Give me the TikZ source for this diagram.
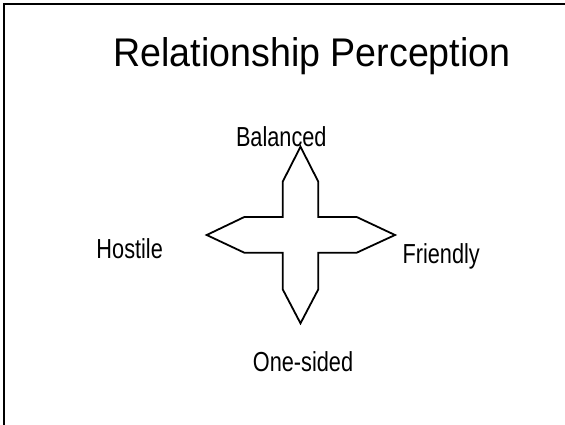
\documentclass[tikz,border=0pt]{standalone}
\usepackage{fontspec}
\setmainfont{Liberation Sans}
\newfontfamily\titlefont[FakeStretch=0.94]{Liberation Sans}
\newfontfamily\labelfont[FakeStretch=0.79]{Liberation Sans}
\begin{document}
\begin{tikzpicture}[x=1pt,y=-1pt,
  titletext/.style={inner sep=0pt, anchor=base, font=\titlefont\fontsize{40}{44}\selectfont},
  labeltext/.style={inner sep=0pt, anchor=base, font=\labelfont\fontsize{27.5}{30}\selectfont},
  frameline/.style={line width=2.4pt, line cap=rect},
  crossline/.style={line width=1.8pt, line join=miter}]
\useasboundingbox (0,0) rectangle (565,424);
% frame (left and top edges visible)
\draw[frameline] (3.8,430) -- (3.8,3.8) -- (570,3.8);
% title
\node[titletext] (title) at (312,66.7) {Relationship Perception};
% four-pointed cross
\draw[crossline]
  (300.5,146.7) -- (318.3,181.7) -- (318.3,217) -- (356.7,217) -- (395,235)
  -- (356.7,252.7) -- (318.3,252.7) -- (318.3,289.3) -- (300.5,323.3)
  -- (282.7,289.3) -- (282.7,252.7) -- (244.3,252.7) -- (206.7,235)
  -- (244.3,217) -- (282.7,217) -- (282.7,181.7) -- cycle;
% labels
\node[labeltext] (balanced) at (281.3,146) {Balanced};
\node[labeltext] (hostile) at (129.7,258.3) {Hostile};
\node[labeltext] (friendly) at (441.2,263.3) {Friendly};
\node[labeltext] (onesided) at (303,371.7) {One-sided};
\end{tikzpicture}
\end{document}
